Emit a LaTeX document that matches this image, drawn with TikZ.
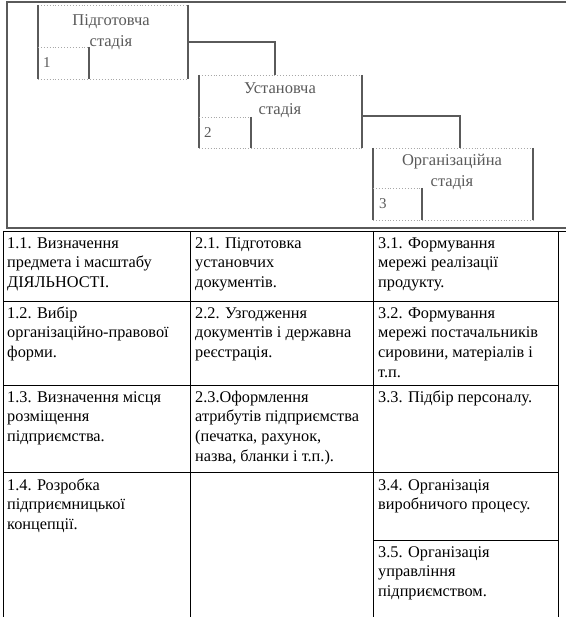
\documentclass[tikz,border=0pt]{standalone}
\usepackage{fontspec}
\setmainfont{Liberation Serif}
\usetikzlibrary{calc}
\definecolor{scan}{HTML}{5A5A5A}
\definecolor{scanlight}{HTML}{A8A8A8}
\tikzset{
  stagebox/.style={rectangle, inner sep=0, outer sep=0},
  stagetext/.style={align=center, inner sep=0, text=scan, font=\fontsize{16.5}{20.5}\selectfont},
  stagenum/.style={anchor=west, inner sep=0, text=scan, font=\fontsize{15}{18}\selectfont},
  solidedge/.style={draw=scan, line width=1.4pt},
  dotedge/.style={draw=scanlight, line width=0.9pt, dotted},
  link/.style={draw=scan, line width=1.4pt},
  frameline/.style={draw=scan, line width=1.8pt},
  cell/.style={anchor=north west, inner sep=0, align=left, font=\fontsize{16.3}{19.7}\selectfont},
  grid/.style={draw=black, line width=0.9pt}
}
\begin{document}
\begin{tikzpicture}[x=1pt,y=-1pt]
\useasboundingbox (0,0) rectangle (566,617);
\fill[white] (0,0) rectangle (566,617);

% outer scanned frame
\draw[frameline] (566,2) -- (7,2) -- (7,228) -- (566,228);

% stage boxes (as nodes)
\node[stagebox, minimum width=150pt, minimum height=74pt] (s1) at (113,42) {};
\node[stagebox, minimum width=163pt, minimum height=73pt] (s2) at (280.5,111.5) {};
\node[stagebox, minimum width=160pt, minimum height=72pt] (s3) at (453,184) {};

% small number boxes
\node[stagebox, minimum width=51pt, minimum height=32pt] (n1) at (63.5,63) {};
\node[stagebox, minimum width=52pt, minimum height=31pt] (n2) at (225,132.5) {};
\node[stagebox, minimum width=49pt, minimum height=32pt] (n3) at (397.5,204) {};

\foreach \b in {s1,s2,s3}{
  \draw[dotedge] (\b.north west) -- (\b.north east);
  \draw[dotedge] (\b.south west) -- (\b.south east);
  \draw[solidedge] (\b.north west) -- (\b.south west);
  \draw[solidedge] (\b.north east) -- (\b.south east);
}
\foreach \b in {n1,n2,n3}{
  \draw[dotedge] (\b.north west) -- (\b.north east);
  \draw[solidedge] (\b.north east) -- (\b.south east);
}

% stage labels
\node[stagetext] (t1) at (111,32) {Підготовча\\стадія};
\node[stagetext] (t2) at (280,100) {Установча\\стадія};
\node[stagetext] (t3) at (452,172) {Організаційна\\стадія};
\node[stagenum] (m1) at ([xshift=5pt]n1.west) {1};
\node[stagenum] (m2) at ([xshift=5pt]n2.west) {2};
\node[stagenum] (m3) at ([xshift=6pt]n3.west) {3};

% connectors
\draw[link] (s1.east) -| ([xshift=-5.5pt]s2.north);
\draw[link] ([yshift=-4.5pt]s2.east) -| ([xshift=7pt]s3.north);

% table grid
\draw[grid] (3,231) -- (566,231);
\foreach \y in {301,385,472}{ \draw[grid] (3,\y) -- (558,\y); }
\draw[grid] (373,540) -- (558,540);
\foreach \x in {3,190,373,558}{ \draw[grid] (\x,231) -- (\x,617); }

% cells
\node[cell] (c11) at (7,234.2) {\strut 1.1. Визначення\\предмета і масштабу\\ДІЯЛЬНОСТІ.};
\node[cell] (c12) at (195,234.2) {\strut 2.1. Підготовка\\установчих\\документів.};
\node[cell] (c13) at (378,234.2) {\strut 3.1. Формування\\мережі реалізації\\продукту.};

\node[cell] (c21) at (7,304.2) {\strut 1.2. Вибір\\організаційно-правової\\форми.};
\node[cell] (c22) at (195,304.2) {\strut 2.2. Узгодження\\документів і державна\\реєстрація.};
\node[cell] (c23) at (378,304.2) {\strut 3.2. Формування\\мережі постачальників\\сировини, матеріалів і\\т.п.};

\node[cell] (c31) at (7,388.2) {\strut 1.3. Визначення місця\\розміщення\\підприємства.};
\node[cell] (c32) at (195,388.2) {\strut 2.3.Оформлення\\атрибутів підприємства\\(печатка, рахунок,\\назва, бланки і т.п.).};
\node[cell] (c33) at (378,388.2) {\strut 3.3. Підбір персоналу.};

\node[cell] (c41) at (7,476.2) {\strut 1.4. Розробка\\підприємницької\\концепції.};
\node[cell] (c43) at (378,476.2) {\strut 3.4. Організація\\виробничого процесу.};
\node[cell] (c53) at (378,543.2) {\strut 3.5. Організація\\управління\\підприємством.};
\end{tikzpicture}
\end{document}
